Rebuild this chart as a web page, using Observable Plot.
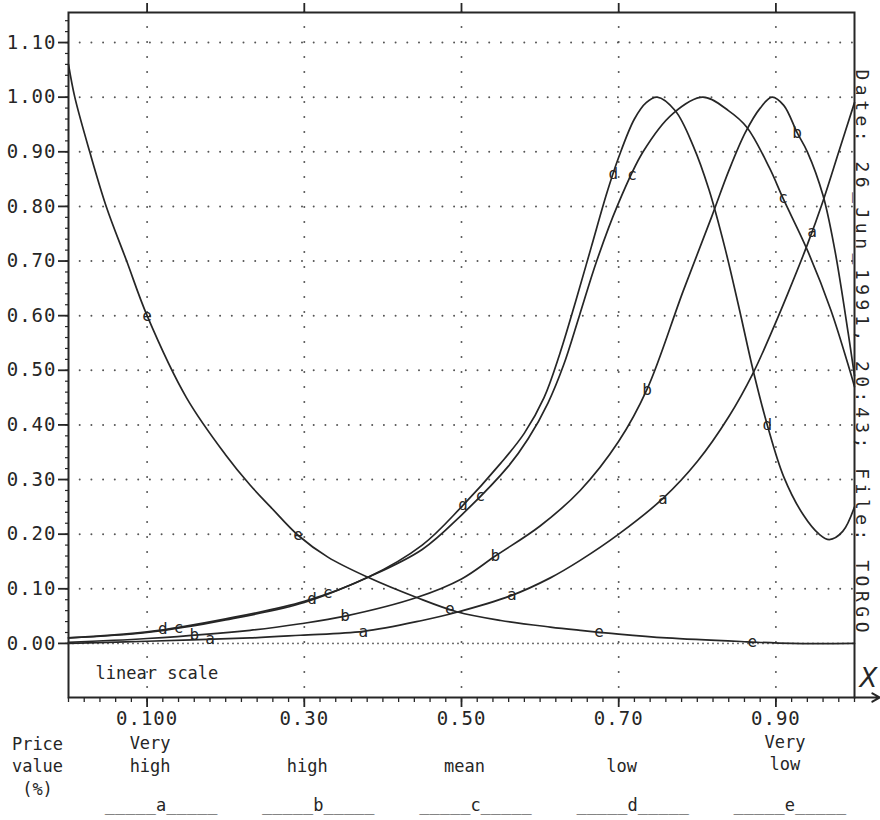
<!DOCTYPE html>
<html>
<head>
<meta charset="utf-8">
<script src="https://cdn.jsdelivr.net/npm/d3@7"></script>
<script src="https://cdn.jsdelivr.net/npm/@observablehq/plot@0.6"></script>
<style>
  html, body { margin: 0; padding: 0; background: #fff; }
  #chart { width: 880px; height: 820px; }
</style>
</head>
<body>
<div id="chart"></div>
<script>
// ---------- data ----------
const seriesNames = ["a", "b", "c", "d", "e"];

const curveA = [[0,0],[0.1,0.004],[0.231,0.010],[0.295,0.015],[0.375,0.022],[0.45,0.042],[0.494,0.057],
  [0.564,0.088],[0.613,0.12],[0.651,0.152],[0.7,0.2],[0.756,0.265],[0.8,0.333],[0.84,0.415],[0.871,0.495],
  [0.893,0.565],[0.915,0.64],[0.94,0.73],[0.96,0.81],[0.98,0.9],[1.0,0.99]];
const curveB = [[0,0.002],[0.1,0.009],[0.231,0.024],[0.295,0.036],[0.352,0.05],[0.443,0.084],[0.5,0.118],
  [0.543,0.16],[0.6,0.215],[0.651,0.28],[0.7,0.37],[0.736,0.465],[0.782,0.645],[0.818,0.78],[0.84,0.865],
  [0.861,0.935],[0.88,0.98],[0.895,1.0],[0.91,0.985],[0.927,0.935],[0.94,0.9],[0.96,0.82],[0.975,0.72],
  [0.992,0.568],[1.0,0.49]];
const curveC = [[0,0.01],[0.1,0.02],[0.2,0.043],[0.3,0.075],[0.381,0.121],[0.45,0.172],[0.5,0.235],
  [0.56,0.325],[0.585,0.375],[0.61,0.44],[0.63,0.51],[0.65,0.6],[0.672,0.7],[0.698,0.8],[0.731,0.9],[0.769,0.97],
  [0.807,1.0],[0.84,0.975],[0.863,0.945],[0.892,0.87],[0.909,0.815],[0.94,0.72],[0.97,0.61],[0.994,0.5],[1.0,0.47]];
const curveD = [[0,0.01],[0.1,0.021],[0.2,0.045],[0.3,0.077],[0.381,0.121],[0.45,0.18],[0.5,0.25],[0.55,0.33],
  [0.58,0.385],[0.605,0.45],[0.625,0.53],[0.645,0.625],[0.665,0.725],[0.685,0.825],[0.7,0.89],[0.72,0.96],
  [0.735,0.99],[0.749,1.0],[0.772,0.975],[0.795,0.91],[0.815,0.83],[0.835,0.725],[0.853,0.615],[0.871,0.5],
  [0.889,0.4],[0.91,0.305],[0.935,0.235],[0.955,0.2],[0.968,0.19],[0.985,0.205],[1.0,0.25]];
const curveE = [[0,1.06],[0.008,1.0],[0.027,0.9],[0.048,0.8],[0.074,0.7],[0.1,0.6],[0.15,0.45],[0.2,0.345],
  [0.231,0.29],[0.257,0.25],[0.292,0.198],[0.33,0.158],[0.381,0.121],[0.443,0.084],[0.494,0.058],[0.55,0.042],
  [0.613,0.03],[0.651,0.024],[0.7,0.017],[0.761,0.01],[0.863,0.003],[0.92,0],[1.0,0]];

// x positions where each curve carries its letter
const labelXA = [0.18, 0.375, 0.564, 0.756, 0.946];
const labelXB = [0.16, 0.352, 0.543, 0.736, 0.927];
const labelXC = [0.14, 0.33, 0.524, 0.717, 0.909];
const labelXD = [0.12, 0.31, 0.502, 0.693, 0.889];
const labelXE = [0.10, 0.292, 0.485, 0.675, 0.87];

const xTicks = [0.1, 0.3, 0.5, 0.7, 0.9];
const xTickLabels = ["0.100", "0.30", "0.50", "0.70", "0.90"];
const yTicks = [0.0, 0.1, 0.2, 0.3, 0.4, 0.5, 0.6, 0.7, 0.8, 0.9, 1.0, 1.1];
const xDomain = [0, 1];
const yDomain = [-0.099, 1.155];

const priceWords = ["Very\nhigh", "high", "mean", "low", "Very\nlow"];
const priceLabel = "Price\nvalue\n(%)";
const legendLetters = ["a", "b", "c", "d", "e"];
const sideCaption = "Date: 26_Jun_1991, 20:43; File: TORGO";
const scaleNote = "linear scale";
const axisLetter = "X";

// ---------- build tables ----------
const curves = [curveA, curveB, curveC, curveD, curveE];
const labelXs = [labelXA, labelXB, labelXC, labelXD, labelXE];

const curveRows = curves.flatMap((pts, k) => pts.map(([x, y]) => ({series: seriesNames[k], x, y})));

function yAt(pts, x) {
  const i = d3.bisector(p => p[0]).right(pts, x);
  if (i <= 0) return pts[0][1];
  if (i >= pts.length) return pts[pts.length - 1][1];
  const [x0, y0] = pts[i - 1], [x1, y1] = pts[i];
  return y0 + (y1 - y0) * (x - x0) / (x1 - x0);
}
const labelRows = labelXs.flatMap((xs, k) => xs.map(x => ({series: seriesNames[k], x, y: yAt(curves[k], x)})));

const xMinor = d3.range(0, 51).map(i => i / 50);
const yMinor = d3.range(0, 58).map(i => i / 50);

const ink = "#262626";
const dotInk = "#555";

const chart = Plot.plot({
  width: 880,
  height: 820,
  marginLeft: 68,
  marginRight: 26,
  marginTop: 12,
  marginBottom: 123,
  x: {domain: xDomain, label: null},
  y: {domain: yDomain, label: null},
  style: {fontFamily: "'DejaVu Sans Mono', monospace", fontSize: "19px", color: ink, background: "#fff", overflow: "visible"},
  marks: [
    // dotted grid
    Plot.ruleY(yTicks.filter(v => v > 0), {stroke: dotInk, strokeWidth: 2, strokeDasharray: "0 11.7", strokeLinecap: "round"}),
    Plot.ruleX(xTicks, {stroke: dotInk, strokeWidth: 2, strokeDasharray: "0 15", strokeLinecap: "round"}),
    Plot.ruleY([0], {stroke: dotInk, strokeWidth: 1.8, strokeDasharray: "0 5", strokeLinecap: "round"}),
    // curves
    Plot.line(curveRows, {x: "x", y: "y", z: "series", curve: "catmull-rom", stroke: ink, strokeWidth: 1.7}),
    Plot.text(labelRows, {x: "x", y: "y", text: "series", fontSize: 16, fill: ink}),
    // frame and axes
    Plot.frame({stroke: ink, strokeWidth: 2}),
    Plot.axisY({ticks: yTicks, tickSize: 10, tickPadding: 2, tickFormat: d3.format(".2f"), strokeWidth: 1.8}),
    Plot.axisY({ticks: yMinor, tickSize: 3, tickFormat: () => "", strokeWidth: 1.2}),
    Plot.axisX({ticks: xTicks, tickSize: 10, tickPadding: 4, tickFormat: d => xTickLabels[xTicks.indexOf(d)], strokeWidth: 1.8}),
    Plot.axisX({ticks: xMinor, tickSize: 5, tickFormat: () => "", strokeWidth: 1.3}),
    Plot.axisX({anchor: "top", ticks: xTicks, tickSize: 10, tickFormat: () => "", strokeWidth: 1.8}),
    // arrow extending the x axis line
    Plot.arrow([{x1: xDomain[1], x2: xDomain[1] + 0.032, y: yDomain[0]}],
      {x1: "x1", x2: "x2", y1: "y", y2: "y", stroke: ink, strokeWidth: 2, headLength: 10}),
    Plot.text([axisLetter], {frameAnchor: "bottom-right", dx: 14, dy: -19, fontSize: 26, fontStyle: "italic",
      fontFamily: "'DejaVu Sans', sans-serif", fontWeight: 300, textAnchor: "middle", lineAnchor: "middle", fill: ink}),
    // side caption
    Plot.text([sideCaption], {frameAnchor: "top-right", rotate: 90, textAnchor: "start", lineAnchor: "middle",
      dx: 7, dy: 57, fontSize: 18, fill: ink}),
    // note inside the frame
    Plot.text([scaleNote], {frameAnchor: "bottom-left", textAnchor: "start", lineAnchor: "middle", dx: 27, dy: -24, fontSize: 17, fill: ink}),
    // texts under the axis
    Plot.text([priceLabel], {frameAnchor: "bottom-left", textAnchor: "middle", lineAnchor: "bottom", lineHeight: 1.32,
      dx: -31, dy: 97, fontSize: 17, fill: ink}),
    Plot.text(priceWords.slice(0, 4), {x: (d, i) => xTicks[i], frameAnchor: "bottom", textAnchor: "middle", lineAnchor: "bottom",
      lineHeight: 1.35, dx: 3, dy: 74, fontSize: 17, fill: ink}),
    Plot.text(priceWords.slice(4), {x: () => xTicks[4], frameAnchor: "bottom", textAnchor: "middle", lineAnchor: "bottom",
      lineHeight: 1.28, dx: 9, dy: 72, fontSize: 17, fill: ink}),
    Plot.text(legendLetters, {x: (d, i) => xTicks[i], text: d => "_____" + d + "_____", frameAnchor: "bottom",
      textAnchor: "middle", lineAnchor: "bottom", dx: 14, dy: 113, fontSize: 17, fill: ink})
  ]
});

document.getElementById("chart").appendChild(chart);

// letter spacing for the plotter-style lettering
const svg = d3.select(chart);
svg.selectAll('g[aria-label="x-axis tick label"] text, g[aria-label="y-axis tick label"] text')
  .style("letter-spacing", "1px");
svg.selectAll("text").filter(function () { return this.textContent === sideCaption; })
  .style("letter-spacing", "4.5px");
</script>
</body>
</html>
